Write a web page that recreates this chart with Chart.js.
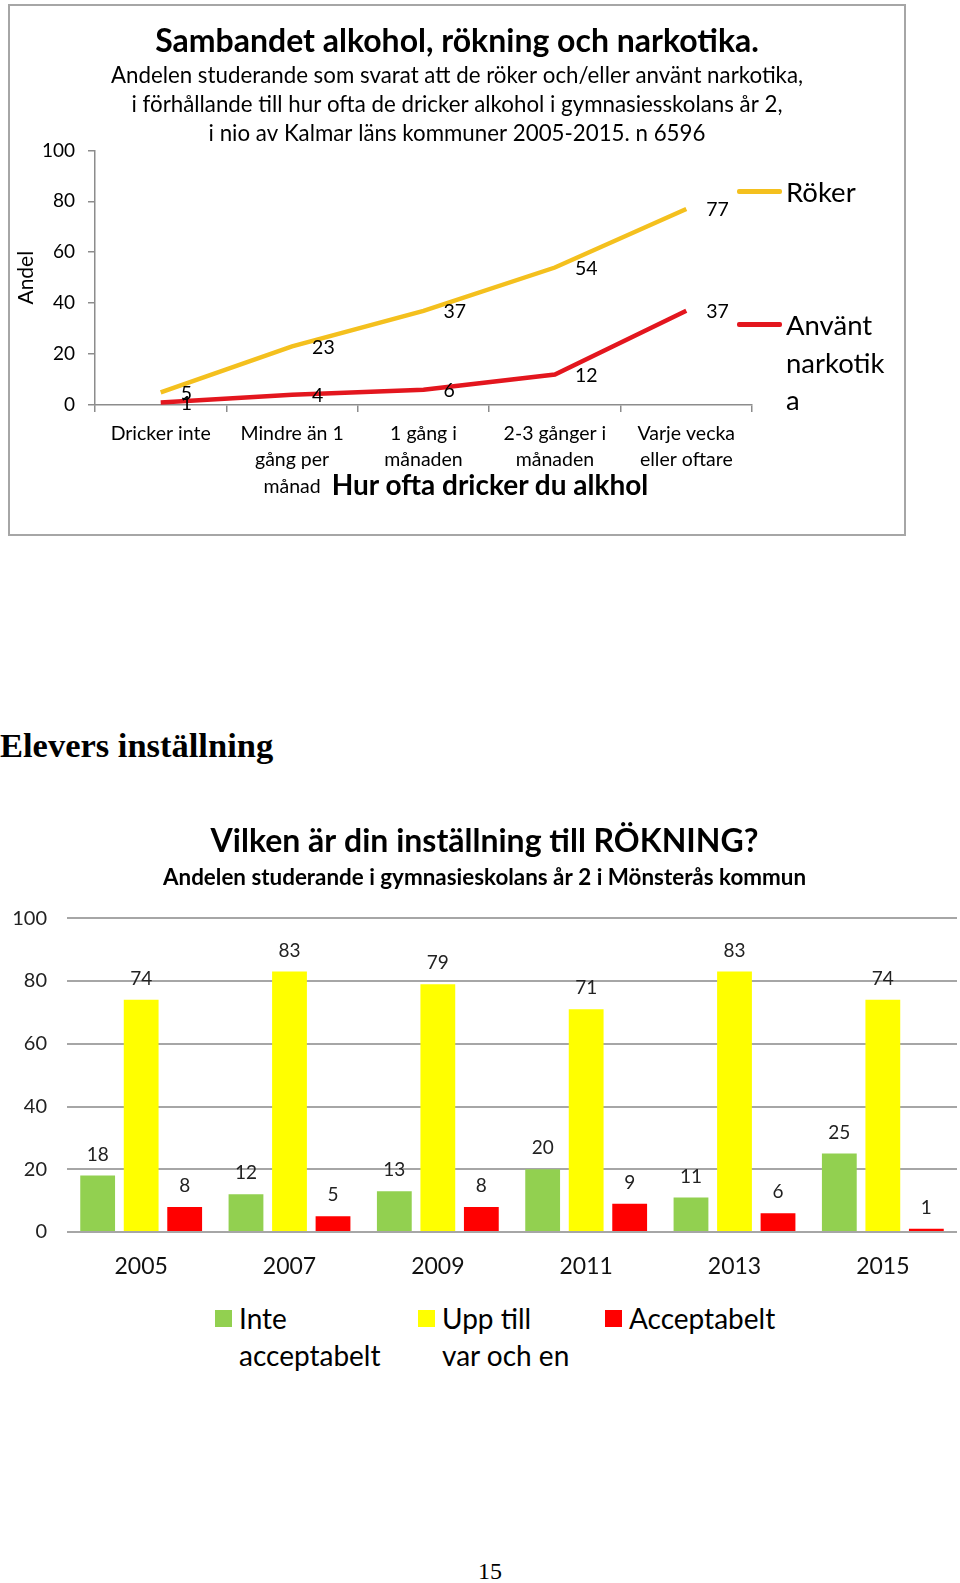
<!DOCTYPE html>
<html lang="sv">
<head>
<meta charset="utf-8">
<title>Sambandet alkohol, rökning och narkotika</title>
<script src="https://cdn.jsdelivr.net/npm/chart.js@4.4.1/dist/chart.umd.min.js"></script>
<style>
  body { margin: 0; width: 960px; height: 1583px; position: relative; background: #fff; overflow: hidden; font-family: Lato, sans-serif; color: #000; }
  #box1 { position: absolute; left: 8px; top: 4px; width: 894px; height: 528px; border: 2px solid #a6a6a6; }
  #box1 canvas, #chart2 { position: absolute; left: 0; top: 0; }
  #chart2 { top: 791px; }
  .xtitle { position: absolute; left: 480px; top: 478px; transform: translate(-50%, -50%); font-weight: bold; font-size: 28px; white-space: nowrap; }
  .lg1 { position: absolute; left: 727px; font-size: 27.5px; line-height: 37.5px; }
  .lg1 .sw { position: absolute; left: 0; top: 16px; width: 45px; height: 5px; border-radius: 2px; }
  .lg1 .tx { position: absolute; left: 49px; top: 0; white-space: nowrap; }
  .lg2 { position: absolute; top: 1300px; font-size: 28px; line-height: 37px; }
  .lg2 .sw { position: absolute; left: 0; top: 10px; width: 17px; height: 17px; }
  .lg2 .tx { position: absolute; left: 24px; top: 0; white-space: nowrap; }
  .page { position: absolute; font-family: "Liberation Serif", "Times New Roman", serif; }
</style>
</head>
<body>
<div id="box1">
  <canvas id="chart1" width="894" height="528"></canvas>
  <div class="xtitle" id="xtitle1"></div>
  <div id="legend1"></div>
</div>
<div class="page" style="left:0; top:725px; font-size:34.5px; font-weight:bold; line-height:40px;">Elevers inställning</div>
<canvas id="chart2" width="960" height="500"></canvas>
<div id="legend2"></div>
<div class="page" style="left:490px; top:1571px; transform:translate(-50%,-50%); font-size:24px;">15</div>

<script>
// diagram 1
const drinkLabels = [['Dricker inte'], ['Mindre än 1', 'gång per', 'månad'], ['1 gång i', 'månaden'], ['2-3 gånger i', 'månaden'], ['Varje vecka', 'eller oftare']];
const smokeValues = [5, 23, 37, 54, 77];
const drugValues = [1, 4, 6, 12, 37];
const lineNames = ['Röker', 'Använt narkotika'];
const lineLegendRows = [['Röker'], ['Använt', 'narkotik', 'a']];
const lineColors = ['#f4c01e', '#e3161e'];

// diagram 2
const years = ['2005', '2007', '2009', '2011', '2013', '2015'];
const notAccepted = [18, 12, 13, 20, 11, 25];
const upToEach = [74, 83, 79, 71, 83, 74];
const accepted = [8, 5, 8, 9, 6, 1];
const barNames = ['Inte acceptabelt', 'Upp till var och en', 'Acceptabelt'];
const barLegendRows = [['Inte', 'acceptabelt'], ['Upp till', 'var och en'], ['Acceptabelt']];
const barColors = ['#92d050', '#ffff00', '#ff0000'];

Chart.defaults.font.family = 'Lato, sans-serif';
Chart.defaults.color = '#000';

// skriver ut värdena vid punkterna / staplarna
const valueLabels = {
  id: 'valueLabels',
  afterDatasetsDraw(chart, args, opts) {
    const ctx = chart.ctx;
    ctx.save();
    ctx.font = opts.font;
    ctx.fillStyle = opts.color;
    ctx.textBaseline = 'middle';
    chart.data.datasets.forEach((ds, i) => {
      chart.getDatasetMeta(i).data.forEach((el, j) => {
        if (opts.side === 'right') {
          ctx.textAlign = 'left';
          ctx.fillText(ds.data[j], el.x + opts.dx, el.y + opts.dy);
        } else {
          ctx.textAlign = 'center';
          ctx.fillText(ds.data[j], el.x, el.y - opts.dy);
        }
      });
    });
    ctx.restore();
  }
};

new Chart(document.getElementById('chart1'), {
  type: 'line',
  data: {
    labels: drinkLabels,
    datasets: [
      { label: lineNames[0], data: smokeValues, borderColor: lineColors[0], borderWidth: 4.5, pointRadius: 0, tension: 0 },
      { label: lineNames[1], data: drugValues, borderColor: lineColors[1], borderWidth: 4.5, pointRadius: 0, tension: 0 }
    ]
  },
  options: {
    responsive: false,
    animation: false,
    layout: { padding: 0 },
    plugins: {
      legend: { display: false },
      tooltip: { enabled: false },
      title: {
        display: true,
        text: 'Sambandet alkohol, rökning och narkotika.',
        font: { size: 32, weight: 'bold' },
        padding: { top: 16, bottom: 0 }
      },
      subtitle: {
        display: true,
        text: [
          'Andelen studerande som svarat att de röker och/eller använt narkotika,',
          'i förhållande till hur ofta de dricker alkohol i gymnasiesskolans år 2,',
          'i nio av Kalmar läns kommuner 2005-2015. n 6596'
        ],
        color: '#000',
        font: { size: 22.3, lineHeight: 29 / 22.3 },
        padding: { top: 1, bottom: 2 }
      },
      valueLabels: { side: 'right', dx: 20, dy: 1, font: '19.5px Lato, sans-serif', color: '#000' }
    },
    scales: {
      x: {
        offset: true,
        ticks: { padding: 8, maxRotation: 0, autoSkip: false, font: { size: 19.5, lineHeight: 26.5 / 19.5 } },
        grid: { offset: true, drawOnChartArea: false, tickLength: 7, color: '#8c8c8c', lineWidth: 1.5 },
        border: { color: '#8c8c8c', width: 1.5 },
        afterFit(s) { s.height = 129; }
      },
      y: {
        min: 0,
        max: 100,
        ticks: { stepSize: 20, padding: 13, font: { size: 19 } },
        grid: { drawOnChartArea: false, tickLength: 7, color: '#8c8c8c', lineWidth: 1.5 },
        border: { color: '#8c8c8c', width: 1.5 },
        title: { display: true, text: 'Andel', font: { size: 21 }, padding: { top: 4, bottom: 0 } },
        afterFit(s) { s.width = 85; }
      },
      yGap: {
        position: 'right',
        display: true,
        ticks: { display: false },
        grid: { display: false },
        border: { display: false },
        afterFit(s) { s.width = 152; }
      }
    }
  },
  plugins: [valueLabels]
});

document.getElementById('xtitle1').textContent = 'Hur ofta dricker du alkhol';

const legend1 = document.getElementById('legend1');
const legend1Tops = [167, 300];
lineLegendRows.forEach((rows, i) => {
  const item = document.createElement('div');
  item.className = 'lg1';
  item.style.top = legend1Tops[i] + 'px';
  item.innerHTML = '<div class="sw" style="background:' + lineColors[i] + '"></div><div class="tx">' + rows.join('<br>') + '</div>';
  legend1.appendChild(item);
});

new Chart(document.getElementById('chart2'), {
  type: 'bar',
  data: {
    labels: years,
    datasets: [
      { label: barNames[0], data: notAccepted, backgroundColor: barColors[0] },
      { label: barNames[1], data: upToEach, backgroundColor: barColors[1] },
      { label: barNames[2], data: accepted, backgroundColor: barColors[2] }
    ]
  },
  options: {
    responsive: false,
    animation: false,
    layout: { padding: { left: 12, right: 3 } },
    datasets: { bar: { categoryPercentage: 0.88, barPercentage: 0.8 } },
    plugins: {
      legend: { display: false },
      tooltip: { enabled: false },
      title: {
        display: true,
        text: 'Vilken är din inställning till RÖKNING?',
        font: { size: 32, weight: 'bold' },
        padding: { top: 31, bottom: 2 }
      },
      subtitle: {
        display: true,
        text: 'Andelen studerande i gymnasieskolans år 2 i Mönsterås kommun',
        color: '#000',
        font: { size: 22.4, weight: 'bold' },
        padding: { top: 2, bottom: 27 }
      },
      valueLabels: { side: 'top', dy: 21, font: '19px Lato, sans-serif', color: '#222' }
    },
    scales: {
      x: {
        ticks: { padding: 13, font: { size: 23 }, color: '#111' },
        grid: { display: false },
        border: { display: false },
        afterFit(s) { s.height = 59; }
      },
      y: {
        min: 0,
        max: 100,
        ticks: { stepSize: 20, padding: 20, font: { size: 20 }, color: '#222' },
        grid: { color: '#a6a6a6', lineWidth: 2, drawTicks: false },
        border: { display: false },
        afterFit(s) { s.width = 55; }
      }
    }
  },
  plugins: [valueLabels]
});

const legend2 = document.getElementById('legend2');
const legend2Lefts = [215, 418, 605];
barLegendRows.forEach((rows, i) => {
  const item = document.createElement('div');
  item.className = 'lg2';
  item.style.left = legend2Lefts[i] + 'px';
  item.innerHTML = '<div class="sw" style="background:' + barColors[i] + '"></div><div class="tx">' + rows.join('<br>') + '</div>';
  legend2.appendChild(item);
});
</script>
</body>
</html>
